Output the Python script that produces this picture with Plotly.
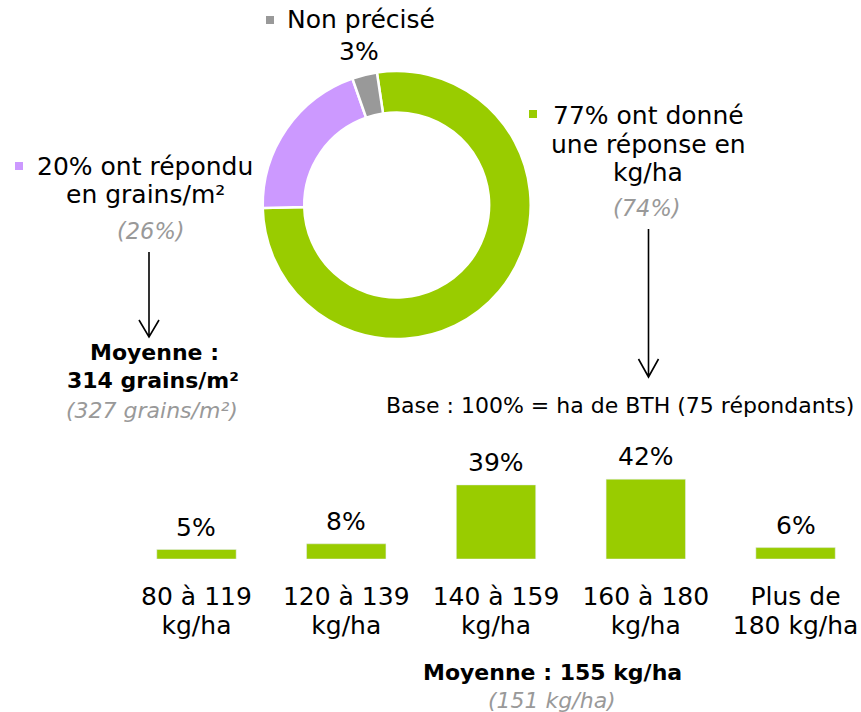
import plotly.graph_objects as go

# ---------------- data ----------------
pie_labels = ["ont donné une réponse en kg/ha", "ont répondu en grains/m²", "Non précisé"]
pie_values = [77, 20, 3]
pie_colors = ["#99CC00", "#CC99FF", "#999999"]

bar_line1 = ["80 à 119", "120 à 139", "140 à 159", "160 à 180", "Plus de"]
bar_line2 = ["kg/ha", "kg/ha", "kg/ha", "kg/ha", "180 kg/ha"]
bar_values = [5, 8, 39, 42, 6]
bar_color = "#99CC00"

W, H = 861, 712
FONT = "Verdana, DejaVu Sans, sans-serif"
GREY = "#999999"
XRANGE = [-0.504, 4.437]


def px(x):
    return x / W


def py(y):
    return 1 - y / H


bar_positions = list(range(len(bar_values)))

fig = go.Figure()

# donut
fig.add_trace(go.Pie(
    labels=pie_labels, values=pie_values, sort=False, direction="clockwise",
    rotation=-8.5, hole=0.69, textinfo="none", hoverinfo="label+percent",
    marker=dict(colors=pie_colors, line=dict(color="white", width=2.5)),
    domain=dict(x=[px(396.7 - 134), px(396.7 + 134)], y=[py(205 + 134), py(205 - 134)]),
    showlegend=False,
))

# bars
fig.add_trace(go.Bar(
    x=bar_positions, y=bar_values, marker_color=bar_color, width=0.53,
    hovertext=[f"{a} {b}" for a, b in zip(bar_line1, bar_line2)],
    xaxis="x", yaxis="y", showlegend=False,
))

fig.update_layout(
    width=W, height=H, margin=dict(l=0, r=0, t=0, b=0),
    paper_bgcolor="white", plot_bgcolor="white",
    font=dict(family=FONT, color="black"),
    xaxis=dict(domain=[px(121), 1.0], range=XRANGE,
               tickvals=bar_positions, ticktext=bar_line1,
               showgrid=False, zeroline=False, showline=False, ticks="",
               tickfont=dict(family=FONT, size=25, color="black"),
               ticklabelstandoff=20, fixedrange=True),
    xaxis2=dict(domain=[px(121), 1.0], range=XRANGE, overlaying="x", anchor="y", side="bottom",
                tickvals=bar_positions, ticktext=bar_line2,
                showgrid=False, zeroline=False, showline=False, ticks="",
                tickfont=dict(family=FONT, size=25, color="black"),
                ticklabelstandoff=49, fixedrange=True),
    yaxis=dict(domain=[py(559), py(430)], range=[0, 129 / 1.9], visible=False,
               fixedrange=True),
    showlegend=False,
)
# invisible trace so xaxis2 is drawn
fig.add_trace(go.Scatter(x=bar_positions, y=[0] * len(bar_positions), xaxis="x2", yaxis="y",
                         mode="markers", marker=dict(opacity=0), hoverinfo="skip",
                         showlegend=False))

# bar value labels
for xv, v in zip(bar_positions, bar_values):
    fig.add_annotation(text=f"{v}%", x=xv, y=v, xref="x", yref="y", xanchor="center",
                       yanchor="bottom", yshift=6, showarrow=False,
                       font=dict(family=FONT, size=25, color="black"))

annots = [
    # text, x, y, anchor, size, style
    ("Non précisé", 285, 20, "left", 25, "n"),
    ("3%", 359, 51, "center", 25, "n"),
    ("77% ont donné", 551, 115.5, "left", 25, "n"),
    ("une réponse en", 648, 144, "center", 25, "n"),
    ("kg/ha", 648, 173, "center", 25, "n"),
    ("(74%)", 647, 208, "center", 22.5, "i"),
    ("20% ont répondu", 35, 166.5, "left", 25, "n"),
    ("en grains/m²", 145, 194, "center", 25, "n"),
    ("(26%)", 151, 231, "center", 22.5, "i"),
    ("Moyenne :", 154, 352.5, "center", 22, "b"),
    ("314 grains/m²", 152.5, 380.5, "center", 22, "b"),
    ("(327 grains/m²)", 152, 410, "center", 22, "i"),
    ("Base : 100% = ha de BTH (75 répondants)", 620, 405, "center", 22, "n"),
    ("Moyenne : 155 kg/ha", 552, 672, "center", 22, "b"),
    ("(151 kg/ha)", 551.5, 700, "center", 22, "i"),
]
for text, x, y, anchor, size, style in annots:
    if style == "b":
        t = f"<b>{text}</b>"
        col = "black"
    elif style == "i":
        t = f"<i>{text}</i>"
        col = GREY
    else:
        t = text
        col = "black"
    fig.add_annotation(text=t, x=px(x), y=py(y), xref="paper", yref="paper",
                       xanchor=anchor, yanchor="middle", showarrow=False,
                       font=dict(family=FONT, size=size, color=col))

shapes = []
# legend-like squares
for (x0, y0), col in zip([(529, 110), (15, 162), (266, 16)], pie_colors):
    shapes.append(dict(type="rect", xref="paper", yref="paper",
                       x0=px(x0), x1=px(x0 + 8), y0=py(y0 + 8), y1=py(y0),
                       fillcolor=col, line=dict(width=0)))


def arrow(x, ytop, ybot, half=10, head=18):
    path = (f"M {px(x)} {py(ytop)} L {px(x)} {py(ybot)} "
            f"M {px(x - half)} {py(ybot - head)} L {px(x)} {py(ybot)} L {px(x + half)} {py(ybot - head)}")
    return dict(type="path", xref="paper", yref="paper", path=path,
                line=dict(color="black", width=1.6))


shapes.append(arrow(648.5, 229, 377))
shapes.append(arrow(149, 252, 337, half=10, head=17))
fig.update_layout(shapes=shapes)

fig.write_html("out.html", config={"displayModeBar": False},
               post_script="document.body.style.margin='0';document.body.style.padding='0';")
